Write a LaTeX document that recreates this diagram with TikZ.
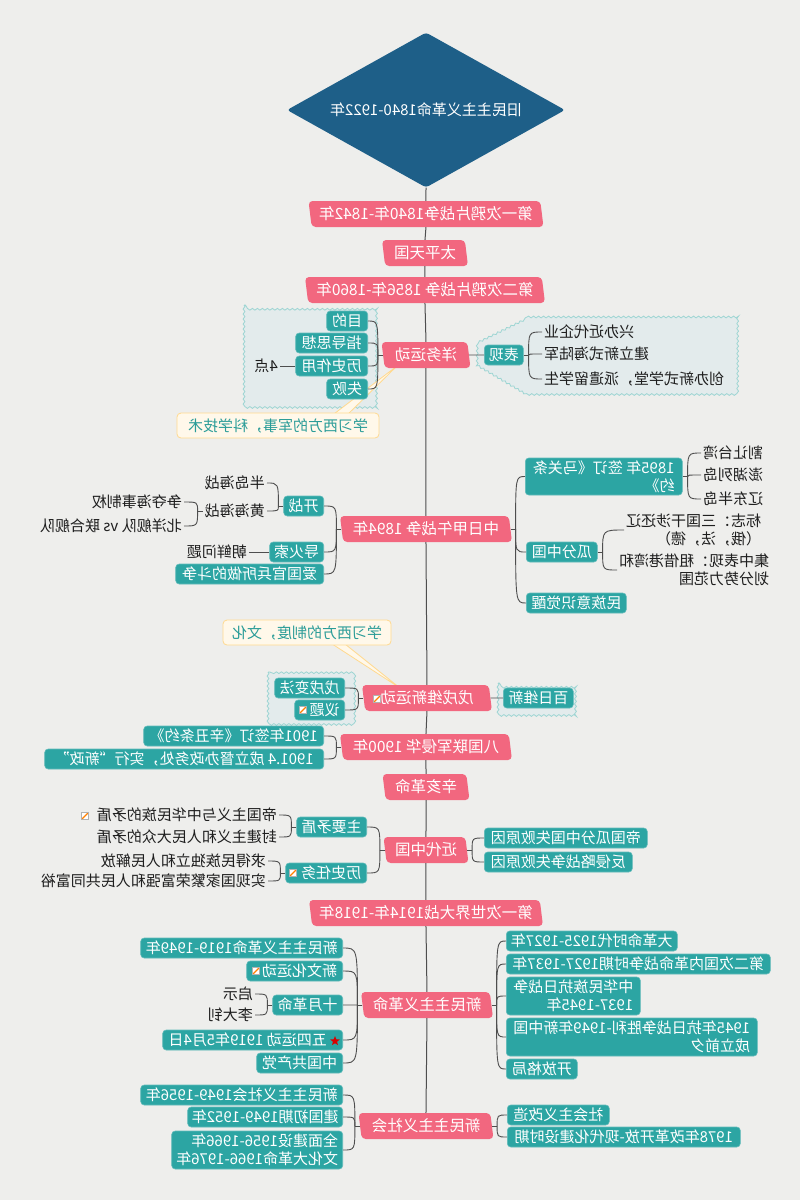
\documentclass[tikz,border=0pt]{standalone}
\usepackage{fontspec}
\setmainfont{Noto Sans CJK SC}
\usetikzlibrary{shapes.geometric,decorations.pathmorphing,calc}
\pgfdeclarelayer{bg}
\pgfsetlayers{bg,main}
\definecolor{bgc}{HTML}{EEEEEC}
\definecolor{pinkc}{HTML}{F2677F}
\definecolor{tealc}{HTML}{2CA5A3}
\definecolor{navyc}{HTML}{1E5F88}
\definecolor{linec}{HTML}{4E4E4E}
\definecolor{calfill}{HTML}{FFF8EA}
\definecolor{calline}{HTML}{FFD98F}
\definecolor{caltext}{HTML}{2A9C98}
\definecolor{bdfill}{HTML}{E3EBEC}
\definecolor{bdline}{HTML}{9DD5D3}
\definecolor{txtc}{HTML}{1E1E1E}
\newcommand\mmR[2]{\draw[conn] (#1.west) -- ++(5,0) coordinate (mmtmp);
  \foreach \mmc in {#2}{\draw[conn] (mmtmp) to[brk] (\mmc.east);}}
\newcommand\mmL[2]{\draw[conn] (#1.east) -- ++(-5,0) coordinate (mmtmp);
  \foreach \mmc in {#2}{\draw[conn] (mmtmp) to[brk] (\mmc.west);}}
\begin{document}
\begin{tikzpicture}[x=1pt,y=-1pt,
  every node/.append style={xscale=-1},
  base/.style={font=\fontsize{15}{18}\selectfont, inner ysep=1pt},
  pink/.style={base, shape=trapezium, trapezium left angle=79, trapezium right angle=101,
    trapezium stretches body, fill=pinkc, text=white, rounded corners=4pt,
    minimum height=26pt, inner xsep=6pt, font=\fontsize{15.5}{18}\selectfont},
  teal/.style={base, rectangle, fill=tealc, draw=tealc!75!white, line width=0.6pt,
    text=white, rounded corners=3.5pt, minimum height=20pt, inner xsep=4pt, align=left},
  tealL/.style={teal, anchor=west},
  tealR/.style={teal, anchor=east},
  plain/.style={base, text=txtc, inner xsep=2pt, align=left},
  txtL/.style={plain, anchor=west},
  txtR/.style={plain, anchor=east},
  callout/.style={base, rectangle, fill=calfill, draw=calline, line width=0.8pt,
    rounded corners=4pt, text=caltext, minimum height=25pt, inner xsep=6pt},
  calw/.style={fill=calfill, draw=calline, line width=0.8pt, line join=round},
  bound/.style={fill=bdfill, draw=bdline, line width=0.8pt, decorate,
    decoration={snake, segment length=5pt, amplitude=0.9pt}},
  noteic/.style={rectangle, draw=gray!60, fill=white, minimum size=7pt, inner sep=0pt,
    line width=0.4pt, path picture={\draw[orange, line width=1.3pt]
    (path picture bounding box.south west) -- (path picture bounding box.north east);}},
  staric/.style={star, star points=5, star point ratio=2.3, fill=red!85!black,
    minimum size=10pt, inner sep=0pt},
  conn/.style={draw=linec, line width=0.9pt},
  trunk/.style={draw=linec, line width=1pt},
  brk/.style={to path={.. controls (\tikztostart |- \tikztotarget) .. (\tikztotarget)}}
]
\begin{pgfonlayer}{bg}
\fill[bgc] (0,0) rectangle (800,1200);
\path[bound] (244,305) rectangle (377,405);
\path[bound] (527,317) -- (738,317) -- (738,393) -- (527,393) -- (478,364) -- (478,341) -- cycle;
\path[bound] (268,672) rectangle (352,723);
\path[bound] (498,683) rectangle (576,713);
\end{pgfonlayer}
\useasboundingbox (0,0) rectangle (800,1200);

% root
\node[diamond, aspect=1.79, fill=navyc, minimum width=278pt, minimum height=155pt,
  inner sep=0pt, text=white, rounded corners=3pt, font=\fontsize{15}{18}\selectfont]
  (root) at (426,110) {旧民主主义革命1840-1922年};

% trunk topics
\node[pink, minimum width=235pt] (p1) at (426,214) {第一次鸦片战争1840年-1842年};
\node[pink, minimum width=86pt] (p2) at (425,253) {太平天国};
\node[pink, minimum width=240pt] (p3) at (425,290) {第二次鸦片战争 1856年-1860年};
\node[pink, minimum width=89pt] (p4) at (426,355) {洋务运动};
\node[pink, minimum width=172pt] (p5) at (426,529) {中日甲午战争 1894年};
\node[pink, minimum width=130pt] (p6) at (427,698) {戊戌维新运动\hspace{12pt}};
\node[pink, minimum width=172pt] (p7) at (426,747) {八国联军侵华 1900年};
\node[pink, minimum width=87pt] (p8) at (426,787) {辛亥革命};
\node[pink, minimum width=85pt] (p9) at (426,850) {近代中国};
\node[pink, minimum width=234pt] (p10) at (426,913) {第一次世界大战1914年-1918年};
\node[pink, minimum width=132pt] (p11) at (427,1005) {新民主主义革命};
\node[pink, minimum width=135pt] (p12) at (426,1126) {新民主主义社会};

% 洋务运动
\node[tealL, minimum width=41pt] (md) at (368,321) {目的};
\node[tealL, minimum width=72pt] (zdsx) at (368,343) {指导思想};
\node[tealL, minimum width=72pt] (lszy) at (368,366) {历史作用};
\node[tealL, minimum width=41pt] (sb) at (368,389) {失败};
\node[txtL] (sd) at (280,366) {4点};
\node[tealR, minimum width=39pt] (bx) at (484,355) {表现};
\node[txtR] (xb) at (542,332) {兴办近代企业};
\node[txtR] (jl) at (542,354) {建立新式海陆军};
\node[txtR] (cb) at (542,379) {创办新式学堂，派遣留学生};
\node[callout, minimum width=202pt] (c1) at (278,425.5) {学习西方的军事，科学技术};

% 中日甲午战争
\node[tealR, minimum width=157pt, minimum height=37pt] (mg) at (525,476.5) {1895年 签订《马关条\\约》};
\node[txtR] (gr) at (701,453) {割让台湾};
\node[txtR] (ph) at (701,475) {澎湖列岛};
\node[txtR] (ld) at (701,499) {辽东半岛};
\node[tealR, minimum width=71pt] (gf) at (526,552) {瓜分中国};
\node[txtR] (bz) at (624,530) {标志：三国干涉还辽\\（俄，法，德）};
\node[txtR] (jz) at (617,570) {集中表现：租借港湾和\\划分势力范围};
\node[tealR, minimum width=100pt] (mz) at (526,603) {民族意识觉醒};
\node[tealL, minimum width=40pt] (kz) at (324,506) {开战};
\node[txtL] (bd) at (267,483) {半岛海战};
\node[txtL] (hh) at (267,511) {黄海海战};
\node[txtL] (zd) at (184,502) {争夺海事制权};
\node[txtL] (by) at (184,526) {北洋舰队 vs 联合舰队};
\node[tealL, minimum width=54pt] (dhs) at (324,552) {导火索};
\node[txtL] (cx) at (249,552) {朝鲜问题};
\node[tealL, minimum width=148pt] (ag) at (324,574) {爱国官兵所做的斗争};

% 戊戌维新运动
\node[noteic] (ic1) at (377,699) {};
\node[tealL, minimum width=70pt] (wx) at (345,688) {戊戌变法};
\node[tealL, minimum width=50pt] (yt) at (345,710) {议题\hspace{10pt}};
\node[noteic] (ic2) at (303,710) {};
\node[tealR, minimum width=70pt] (br) at (503,698) {百日维新};
\node[callout, minimum width=168pt] (c2) at (307,632.5) {学习西方的制度，文化};

% 八国联军
\node[tealL, minimum width=180pt] (xc) at (324,736) {1901年签订《辛丑条约》};
\node[tealL, minimum width=279pt] (xz) at (324,759) {1901.4 成立督办政务处，实行“新政”};

% 近代中国
\node[tealR, minimum width=163pt] (dg) at (484,838) {帝国瓜分中国失败原因};
\node[tealR, minimum width=148pt] (fq) at (484,862) {反侵略战争失败原因};
\node[tealL, minimum width=70pt] (zy) at (367,827) {主要矛盾};
\node[tealL, minimum width=81pt] (ls) at (367,873) {历史任务\hspace{10pt}};
\node[noteic] (ic3) at (293,873) {};
\node[txtL] (dz) at (279,815) {帝国主义与中华民族的矛盾\hspace{11pt}};
\node[noteic] (ic4) at (85,816) {};
\node[txtL] (fj) at (279,837) {封建主义和人民大众的矛盾};
\node[txtL] (qd) at (268,861) {求得民族独立和人民解放};
\node[txtL] (sx) at (268,881) {实现国家繁荣富强和人民共同富裕};

% 新民主主义革命
\node[tealR, minimum width=171pt] (dgm) at (506,941) {大革命时代1925-1927年};
\node[tealR, minimum width=264pt] (decz) at (506,964) {第二次国内革命战争时期1927-1937年};
\node[tealR, minimum width=134pt, minimum height=38pt] (zhmz) at (506,996) {中华民族抗日战争\\1937-1945年};
\node[tealR, minimum width=251pt, minimum height=38pt] (sl) at (506,1037) {1945年抗日战争胜利-1949年新中国\\成立前夕};
\node[tealR, minimum width=71pt] (kf) at (506,1069) {开放格局};
\node[tealL, minimum width=202pt] (xm) at (343,948) {新民主主义革命1919-1949年};
\node[tealL, minimum width=96pt] (xwh) at (343,971) {新文化运动\hspace{10pt}};
\node[noteic] (ic5) at (256,971) {};
\node[tealL, minimum width=70pt] (sy) at (343,1005) {十月革命};
\node[txtL] (qs) at (255,994) {启示};
\node[txtL] (ldz) at (255,1015) {李大钊};
\node[tealL, minimum width=180pt] (ws) at (343,1040) {\hspace{10pt}五四运动 1919年5月4日};
\node[staric] (ic6) at (335,1041) {};
\node[tealL, minimum width=86pt] (zg) at (343,1063) {中国共产党};

% 新民主主义社会
\node[tealR, minimum width=102pt] (shgz) at (507,1115) {社会主义改造};
\node[tealR, minimum width=233pt] (gg) at (507,1137) {1978年改革开放-现代化建设时期};
\node[tealL, minimum width=202pt] (xs) at (343,1095) {新民主主义社会1949-1956年};
\node[tealL, minimum width=155pt] (jg) at (343,1117) {建国初期1949-1952年};
\node[tealL, minimum width=171pt, minimum height=38pt] (qm) at (343,1150) {全面建设1956-1966年\\文化大革命1966-1976年};

% callout pointers
\begin{pgfonlayer}{bg}
\path[calw] (326,420) -- (342,420) -- (397,366) -- cycle;
\path[calw] (326,640) -- (340,640) -- (400,688) -- cycle;
\end{pgfonlayer}

% trunk
\draw[trunk] (root.south) -- (p1.north);
\foreach \ua/\ub in {p1/p2,p2/p3,p3/p4,p4/p5,p5/p6,p6/p7,p7/p8,p8/p9,p9/p10,p10/p11,p11/p12}
  {\draw[trunk] (\ua.south) -- (\ub.north);}

% branches
\mmL{p4}{md,zdsx,lszy,sb}
\draw[conn] (lszy.east) -- (sd.west);
\draw[conn] (p4.west) -- (bx.east);
\mmR{bx}{xb,jl,cb}
\mmR{p5}{mg,gf,mz}
\mmR{mg}{gr,ph,ld}
\mmR{gf}{bz,jz}
\mmL{p5}{kz,dhs,ag}
\mmL{kz}{bd,hh}
\mmL{hh}{zd,by}
\draw[conn] (dhs.east) -- (cx.west);
\mmL{p6}{wx,yt}
\draw[conn] (p6.west) -- (br.east);
\mmL{p7}{xc,xz}
\mmR{p9}{dg,fq}
\mmL{p9}{zy,ls}
\mmL{zy}{dz,fj}
\mmL{ls}{qd,sx}
\mmR{p11}{dgm,decz,zhmz,sl,kf}
\mmL{p11}{xm,xwh,sy,ws,zg}
\mmL{sy}{qs,ldz}
\mmR{p12}{shgz,gg}
\mmL{p12}{xs,jg,qm}
\end{tikzpicture}
\end{document}
